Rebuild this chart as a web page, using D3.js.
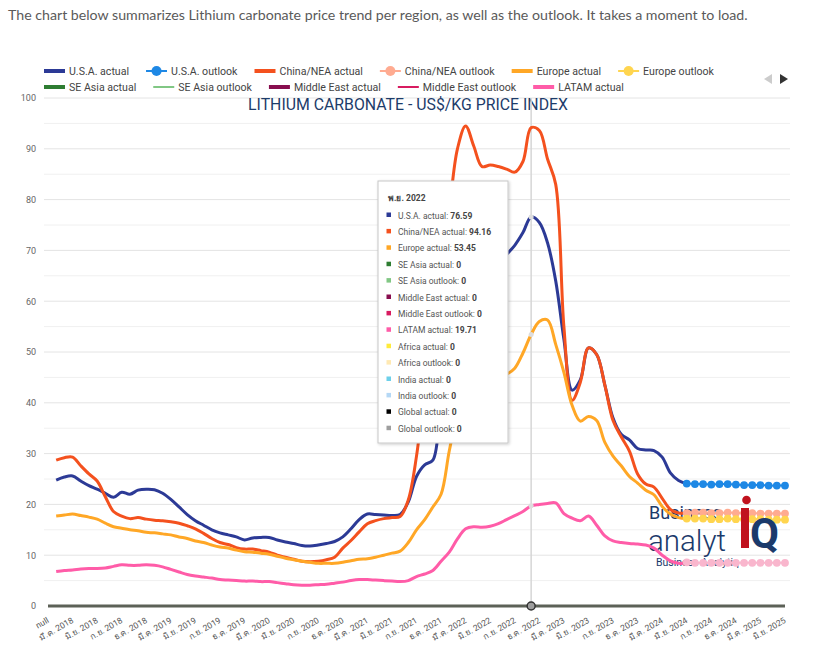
<!DOCTYPE html>
<html><head><meta charset="utf-8">
<script src="https://cdn.jsdelivr.net/npm/d3@7/dist/d3.min.js"></script>
<style>
body{margin:0;background:#fff;}
svg{display:block;font-family:Roboto,"Noto Sans",sans-serif;}
</style></head><body>
<svg id="chart" width="823" height="660"></svg>
<script>
// ---------------- DATA ----------------
const thaiMonths = ['ม.ค.','ก.พ.','มี.ค.','เม.ย.','พ.ค.','มิ.ย.','ก.ค.','ส.ค.','ก.ย.','ต.ค.','พ.ย.','ธ.ค.'];
const firstYear = 2018, lastYear = 2025, lastMonthOfLastYear = 6;
const categories = ['null'];
for (let yr = firstYear; yr <= lastYear; yr++) {
  const mMax = yr === lastYear ? lastMonthOfLastYear : 12;
  for (let m = 0; m < mMax; m++) categories.push(thaiMonths[m] + ' ' + yr);
}
const yTicks = [0,10,20,30,40,50,60,70,80,90,100];

// actual series: Jan 2018 .. Jun 2024
const usaActual = [24.8,25.4,25.6,24.6,23.7,23.0,22.2,21.4,22.4,22.0,22.8,23.0,
  22.9,22.2,21.0,19.5,18.0,16.8,15.9,15.0,14.4,14.0,13.6,13.0,
  13.4,13.5,13.5,13.0,12.6,12.3,11.9,11.8,12.0,12.3,12.7,13.6,
  15.2,17.0,18.1,18.0,17.9,17.8,18.0,20.5,25.5,27.8,28.7,40.0,
  48.0,57.0,63.0,66.0,66.5,66.5,67.5,69.2,71.0,73.5,76.59,75.5,
  71.5,64.0,52.5,42.5,44.5,50.8,49.5,43.5,37.0,33.8,32.7,31.0,
  30.7,30.6,29.3,26.2,24.7,24.1];
const chinaActual = [28.7,29.2,29.3,27.6,26.0,24.6,21.5,18.6,17.7,17.2,17.4,17.1,
  16.9,16.8,16.6,16.3,15.8,15.2,14.3,13.3,12.5,12.1,11.5,11.2,
  11.2,10.9,10.6,10.0,9.6,9.2,8.8,8.7,8.8,9.1,9.6,11.4,
  12.9,14.6,16.2,16.8,17.2,17.4,17.6,20.9,29.5,43.0,56.0,67.0,
  78.0,90.0,94.5,90.5,86.5,86.8,86.5,86.0,85.4,87.5,94.16,93.6,
  88.0,83.0,55.0,40.5,44.0,50.8,49.5,43.5,36.5,33.3,30.5,26.0,
  24.0,23.4,21.2,19.0,18.3,18.3];
const europeActual = [17.7,17.9,18.1,17.8,17.5,17.1,16.3,15.6,15.3,15.0,14.8,14.5,
  14.4,14.2,14.0,13.6,13.3,12.8,12.5,12.0,11.6,11.4,11.0,10.7,
  10.6,10.4,10.2,9.8,9.4,9.1,8.8,8.6,8.4,8.4,8.4,8.6,
  8.9,9.2,9.3,9.6,10.0,10.4,10.8,12.5,15.0,17.0,19.5,22.0,
  30.5,38.0,43.0,45.0,45.2,44.8,45.0,45.6,46.8,49.8,53.45,56.0,
  56.3,51.5,46.0,39.5,36.4,37.3,36.5,32.2,29.5,27.6,25.5,24.2,
  22.8,21.9,19.6,18.1,17.4,17.2];
const latamActual = [6.8,7.0,7.1,7.3,7.4,7.4,7.5,7.8,8.1,8.0,8.0,8.1,
  8.0,7.7,7.2,6.7,6.2,5.9,5.7,5.5,5.2,5.1,5.0,4.9,
  4.9,4.8,4.8,4.6,4.4,4.2,4.1,4.1,4.2,4.3,4.5,4.7,
  5.0,5.2,5.2,5.1,5.0,4.9,4.8,5.0,5.8,6.3,7.0,8.8,
  10.6,13.2,15.2,15.6,15.5,15.7,16.2,17.0,17.8,18.6,19.71,20.0,
  20.2,20.3,18.2,17.3,16.8,17.7,15.9,13.8,12.8,12.5,12.3,12.2,
  12.0,11.4,10.0,8.9,8.4,8.5];
// outlook series: Jun 2024 .. Jun 2025
const usaOutlook = [24.1,24.0,24.0,23.9,24.0,24.0,23.9,23.8,23.8,23.8,23.7,23.7,23.7];
const chinaOutlook = [18.3,18.4,18.4,18.3,18.3,18.4,18.3,18.3,18.3,18.2,18.2,18.2,18.2];
const europeOutlook = [17.2,17.2,17.2,17.1,17.1,17.2,17.1,17.1,17.1,17.1,17.0,17.0,17.0];
const latamOutlook = [8.6,8.5,8.5,8.5,8.5,8.5,8.5,8.5,8.5,8.5,8.5,8.5,8.5];
const zeroLevel = 0; // SE Asia, Middle East, Africa, India, Global series all at 0

const actualStart = 1;   // category index of Jan 2018
const outlookStart = 78; // category index of Jun 2024
const hoverIndex = 59;   // พ.ย. 2022

const colors = {
  usaA:'#2c3a96', usaO:'#1e88e5', chinaA:'#f4511e', chinaO:'#ffab91',
  euA:'#ffa726', euO:'#ffd54f', seaA:'#2e7d32', seaO:'#81c784',
  meA:'#880e4f', meO:'#d81b60', latamA:'#ff5ca8', latamO:'#f9b6cd',
  afA:'#ffeb3b', afO:'#ffe9b3', inA:'#6dd0ea', inO:'#b5d8f5', glA:'#000000', glO:'#9e9e9e'
};
const legendRow1 = [['U.S.A. actual','usaA','line'],['U.S.A. outlook','usaO','dot'],['China/NEA actual','chinaA','line'],['China/NEA outlook','chinaO','dot'],['Europe actual','euA','line'],['Europe outlook','euO','dot']];
const legendRow2 = [['SE Asia actual','seaA','line'],['SE Asia outlook','seaO','thin'],['Middle East actual','meA','line'],['Middle East outlook','meO','thin'],['LATAM actual','latamA','line']];
const tooltipItems = [['U.S.A. actual','usaA',usaActual[hoverIndex-actualStart]],['China/NEA actual','chinaA',chinaActual[hoverIndex-actualStart]],['Europe actual','euA',europeActual[hoverIndex-actualStart]],['SE Asia actual','seaA',0],['SE Asia outlook','seaO',0],['Middle East actual','meA',0],['Middle East outlook','meO',0],['LATAM actual','latamA',latamActual[hoverIndex-actualStart]],['Africa actual','afA',0],['Africa outlook','afO',0],['India actual','inA',0],['India outlook','inO',0],['Global actual','glA',0],['Global outlook','glO',0]];

// ---------------- CHART ----------------
const svg = d3.select('#chart');
const x = d3.scalePoint().domain(categories).range([48,785]);
const y = d3.scaleLinear().domain([0,100]).range([606,98]);
const xi = i => x(categories[i]);

function fitText(sel, target) {
  const w = sel.node().getComputedTextLength();
  const fs = parseFloat(sel.attr('font-size'));
  sel.attr('font-size', (fs*target/w).toFixed(2));
}

// intro sentence
const intro = svg.append('text').attr('x',8).attr('y',20).attr('font-size',14)
  .attr('font-family','Lato, "Open Sans", sans-serif').attr('fill','#5a5a5a')
  .text('The chart below summarizes Lithium carbonate price trend per region, as well as the outlook. It takes a moment to load.');
fitText(intro, 740);

// gridlines
svg.append('g').selectAll('line').data(y.ticks(20).filter(v=>v>0)).join('line')
  .attr('x1',44).attr('x2',790).attr('y1',d=>y(d)).attr('y2',d=>y(d))
  .attr('stroke',d=>d%10===0?'#e4e4e4':'#f0f0f0').attr('stroke-width',1);

// y axis
const ya = svg.append('g').attr('transform','translate(44,0)')
  .call(d3.axisLeft(y).tickValues(yTicks).tickSize(0).tickPadding(8));
ya.select('.domain').remove();
ya.selectAll('text').attr('font-size',9).attr('fill','#666').attr('font-family','Roboto');

// x axis
const xa = svg.append('g').attr('transform','translate(0,606)')
  .call(d3.axisBottom(x).tickValues(categories.filter((d,i)=>i%3===0)).tickSize(0));
xa.select('.domain').remove();
xa.selectAll('text').attr('font-size',8.5).attr('fill','#555').attr('font-family','Roboto')
  .attr('text-anchor','end').attr('x',0).attr('y',0).attr('dy',0)
  .attr('transform','translate(1,16) rotate(-30)');

// title
const title = svg.append('text').attr('x',408).attr('y',110).attr('text-anchor','middle')
  .attr('font-size',15).attr('fill','#1d3c6a').text('LITHIUM CARBONATE - US$/KG PRICE INDEX');
fitText(title, 320);

// crosshair
svg.append('line').attr('x1',xi(hoverIndex)).attr('x2',xi(hoverIndex)).attr('y1',y(100)).attr('y2',y(0))
  .attr('stroke','#d6d6d6').attr('stroke-width',1.5);

// logo (background part)
const logo = svg.append('g').attr('fill','#1b3a6b');
logo.append('text').attr('x',649).attr('y',518.5).attr('font-size',18).text('Business');
logo.append('text').attr('x',648).attr('y',550.5).attr('font-size',29.5).attr('font-weight',300).text('analyt');
logo.append('text').attr('x',656).attr('y',566).attr('font-size',10.5).text('Business Analytiq');

const line = d3.line().x(d=>xi(d.i)).y(d=>y(d.v)).curve(d3.curveCatmullRom.alpha(0.5));
const toPts = (arr, start) => arr.map((v,k)=>({i:start+k, v}));

function drawActual(arr, c) {
  svg.append('path').datum(toPts(arr, actualStart)).attr('d',line)
    .attr('fill','none').attr('stroke',colors[c]).attr('stroke-width',3).attr('stroke-linejoin','round');
}
function drawOutlook(arr, c) {
  const pts = toPts(arr, outlookStart);
  svg.append('path').datum(pts).attr('d',line).attr('fill','none').attr('stroke',colors[c]).attr('stroke-width',2);
  svg.append('g').selectAll('circle').data(pts).join('circle')
    .attr('cx',d=>xi(d.i)).attr('cy',d=>y(d.v)).attr('r',3.9).attr('fill',colors[c]);
}
drawActual(usaActual,'usaA'); drawOutlook(usaOutlook,'usaO');
drawActual(chinaActual,'chinaA'); drawOutlook(chinaOutlook,'chinaO');
drawActual(europeActual,'euA'); drawOutlook(europeOutlook,'euO');
drawActual(latamActual,'latamA'); drawOutlook(latamOutlook,'latamO');

// zero-valued series (overlapping at 0)
svg.append('path').datum([{i:0,v:zeroLevel},{i:categories.length-1,v:zeroLevel}]).attr('d',d3.line().x(d=>xi(d.i)).y(d=>y(d.v)))
  .attr('stroke','#5c6157').attr('stroke-width',3.2).attr('fill','none');

// logo (foreground part)
const fg = svg.append('g');
fg.append('rect').attr('x',741).attr('y',508).attr('width',8).attr('height',40).attr('fill','#c0121e');
fg.append('circle').attr('cx',746.5).attr('cy',500).attr('r',4.3).attr('fill','#c0121e');
fg.append('text').attr('x',750).attr('y',548).attr('font-size',42).attr('font-weight',700).attr('fill','#1b3a6b').text('Q');

// focus markers
const focusVals = [usaActual, europeActual, latamActual].map(a=>a[hoverIndex-actualStart]);
svg.append('g').selectAll('circle').data(focusVals).join('circle')
  .attr('cx',xi(hoverIndex)).attr('cy',d=>y(d)).attr('r',2.5).attr('fill','#dddddd');
svg.append('circle').attr('cx',xi(hoverIndex)).attr('cy',y(0)).attr('r',4)
  .attr('fill','#9e9e9e').attr('stroke','#333').attr('stroke-width',1.5);

// legend
function drawLegendRow(items, yy) {
  let cx = 44;
  items.forEach(([name,c,type])=>{
    const g = svg.append('g');
    if (type==='line') g.append('line').attr('x1',cx).attr('x2',cx+21).attr('y1',yy).attr('y2',yy).attr('stroke',colors[c]).attr('stroke-width',4);
    else {
      g.append('line').attr('x1',cx).attr('x2',cx+21).attr('y1',yy).attr('y2',yy).attr('stroke',colors[c]).attr('stroke-width',2);
      if (type==='dot') g.append('circle').attr('cx',cx+10.5).attr('cy',yy).attr('r',5).attr('fill',colors[c]);
    }
    const t = g.append('text').attr('x',cx+25).attr('y',yy+4).attr('font-size',10.6).attr('fill','#444').text(name);
    cx += 25 + t.node().getComputedTextLength() + 17;
  });
}
drawLegendRow(legendRow1, 71);
drawLegendRow(legendRow2, 87);
svg.append('polygon').attr('points','772,74 772,84 764,79').attr('fill','#cccccc');
svg.append('polygon').attr('points','780,74 780,84 788,79').attr('fill','#333333');

// tooltip
const tt = svg.append('g');
const defs = svg.append('defs');
const f = defs.append('filter').attr('id','sh').attr('x','-10%').attr('y','-10%').attr('width','130%').attr('height','130%');
f.append('feDropShadow').attr('dx',1).attr('dy',1).attr('stdDeviation',1.5).attr('flood-color','#000').attr('flood-opacity',0.2);
tt.append('rect').attr('x',378).attr('y',181).attr('width',130).attr('height',262)
  .attr('fill','#fff').attr('stroke','#c8c8c8').attr('stroke-width',1).attr('filter','url(#sh)');
tt.append('text').attr('x',388).attr('y',200.5).attr('font-size',8.5).attr('font-weight',700).attr('fill','#444').text(categories[hoverIndex]);
tooltipItems.forEach(([name,c,v],k)=>{
  const yy = 218.5 + k*16.4;
  tt.append('rect').attr('x',386.5).attr('y',yy-6).attr('width',4.5).attr('height',4.5).attr('fill',colors[c]);
  const t = tt.append('text').attr('x',398).attr('y',yy).attr('font-size',8.5).attr('fill','#555');
  t.append('tspan').text(name+': ');
  t.append('tspan').attr('font-weight',700).attr('fill','#444').text(v);
});
</script>
</body></html>
